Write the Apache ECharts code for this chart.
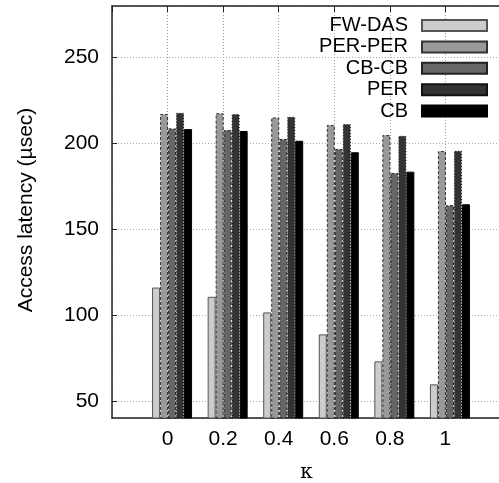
<!DOCTYPE html>
<html>
<head>
<meta charset="utf-8">
<script src="https://cdn.jsdelivr.net/npm/echarts@6/dist/echarts.min.js"></script>
<style>
	html, body { margin: 0; padding: 0; background: #fff; }
	#main { width: 499px; height: 483px; }
</style>
</head>
<body>
<div id="main"></div>
<script>
// categories (kappa), padded with an empty slot on each side
var kappa = ['0', '0.2', '0.4', '0.6', '0.8', '1'];
var seriesNames = ['FW-DAS', 'PER-PER', 'CB-CB', 'PER', 'CB'];
var fwDas = [116, 110.6, 101.5, 88.7, 73, 59.6];
var perPer = [217.1, 217.5, 215.1, 210.7, 204.8, 195.5];
var cbCb = [208.7, 207.7, 202.5, 196.7, 182.7, 164];
var per = [217.8, 217.1, 215.5, 211.2, 204.4, 195.7];
var cb = [208.3, 207.2, 201.5, 194.8, 183.5, 164.5];

var myChart = echarts.init(document.getElementById('main'));

var fontFamily = '"Liberation Sans", Arial, sans-serif';
var cats = [''].concat(kappa, ['']);
function pad(arr) {
	return ['-'].concat(arr, ['-']);
}

// bar looks: fill, border colour, border type
var looks = [
	{ color: '#cccccc', borderColor: '#555555', borderType: 'solid' },
	{ color: '#999999', borderColor: '#333333', borderType: [3, 2] },
	{ color: '#666666', borderColor: '#222222', borderType: [3, 2] },
	{ color: '#333333', borderColor: '#111111', borderType: [1, 2] },
	{ color: '#000000', borderColor: '#000000', borderType: 'solid' }
];
var values = [fwDas, perPer, cbCb, per, cb];

var series = [];
for (var i = 0; i < seriesNames.length; i++) {
	series.push({
		name: seriesNames[i],
		type: 'bar',
		xAxisIndex: 2,
		yAxisIndex: 2,
		barWidth: 8,
		barGap: '0%',
		data: pad(values[i]),
		itemStyle: {
			color: looks[i].color,
			borderColor: looks[i].borderColor,
			borderWidth: 1,
			borderType: looks[i].borderType
		}
	});
}

option = {
	backgroundColor: '#fff',
	animation: false,
	textStyle: { fontFamily: fontFamily },
	// grid 0: frame, ticks and grid lines; grid 1: bars, nudged right like gnuplot does
	grid: [
		{ left: 112, top: 6, right: -2, bottom: 65, containLabel: false, outerBoundsMode: 'none' },
		{ left: 116.5, top: 6, right: -6.5, bottom: 65, containLabel: false, outerBoundsMode: 'none' }
	],
	legend: {
		data: seriesNames,
		orient: 'vertical',
		right: 11,
		top: 15.5,
		padding: 0,
		align: 'right',
		icon: 'rect',
		itemWidth: 65,
		itemHeight: 11,
		itemGap: 1.4,
		textStyle: { fontSize: 20, lineHeight: 20, color: '#000', fontFamily: fontFamily, padding: [0, 9, 0, 0] }
	},
	xAxis: [{
		type: 'category',
		gridIndex: 0,
		data: cats,
		boundaryGap: false,
		position: 'bottom',
		name: 'κ',
		nameLocation: 'middle',
		nameGap: 45,
		nameTextStyle: { fontSize: 20, color: '#000', fontFamily: '"DejaVu Serif", serif' },
		axisLine: { lineStyle: { color: '#222', width: 1.5 } },
		axisTick: { show: false },
		axisLabel: { fontSize: 21, color: '#000', margin: 11 },
		splitLine: { show: true, lineStyle: { color: '#999', type: [1, 2], width: 1 } }
	}, {
		type: 'category',
		gridIndex: 0,
		data: cats,
		boundaryGap: false,
		position: 'top',
		axisLine: { lineStyle: { color: '#222', width: 1.5 } },
		axisTick: { show: true, inside: true, length: 6, lineStyle: { color: '#222' } },
		axisLabel: { show: false },
		splitLine: { show: false }
	}, {
		type: 'category',
		gridIndex: 1,
		data: cats,
		boundaryGap: false,
		show: false
	}],
	yAxis: [{
		type: 'value',
		gridIndex: 0,
		min: 40,
		max: 280,
		position: 'left',
		axisLine: { show: true, lineStyle: { color: '#222', width: 1.5 } },
		axisTick: { show: true, inside: true, length: 5, lineStyle: { color: '#222' } },
		axisLabel: { fontSize: 21, color: '#000', margin: 13, showMinLabel: false, showMaxLabel: false },
		splitLine: { show: true, lineStyle: { color: '#aaa', type: [1, 2], width: 1 } }
	}, {
		type: 'value',
		gridIndex: 0,
		min: 40,
		max: 280,
		position: 'right',
		axisLine: { show: true, lineStyle: { color: '#222', width: 1.5 } },
		axisTick: { show: false },
		axisLabel: { show: false },
		splitLine: { show: false }
	}, {
		type: 'value',
		gridIndex: 1,
		min: 40,
		max: 280,
		show: false
	}],
	graphic: [{
		type: 'text',
		x: 26,
		y: 210,
		rotation: Math.PI / 2,
		style: {
			text: 'Access latency (µsec)',
			font: '21px ' + fontFamily,
			fill: '#000',
			textAlign: 'center',
			textVerticalAlign: 'middle'
		}
	}],
	series: series
};

myChart.setOption(option);
</script>
</body>
</html>
